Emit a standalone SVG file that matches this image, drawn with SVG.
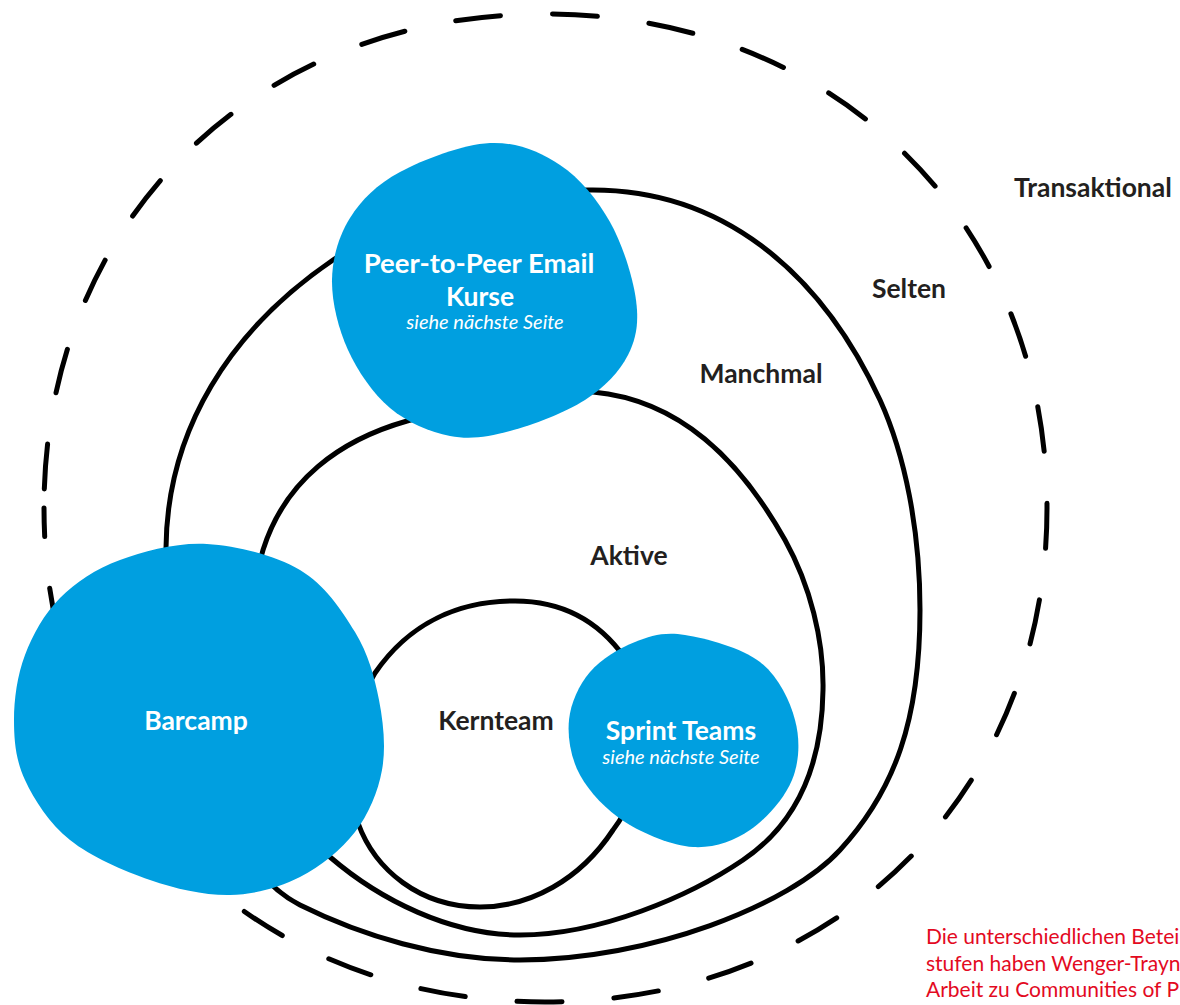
<svg xmlns="http://www.w3.org/2000/svg" width="1180" height="1005" viewBox="0 0 1180 1005">
<style>
.ring{fill:none;stroke:#000;stroke-width:5;stroke-linecap:round}
.dash{stroke-dasharray:45 52;stroke-dashoffset:78}
.blob{fill:#009fe0}
.lbl{font-family:Lato,"Liberation Sans",sans-serif;font-weight:700;font-size:26.5px;fill:#231f20}
.wt{fill:#ffffff}
.it{font-family:Lato,"Liberation Sans",sans-serif;font-style:italic;font-weight:400;font-size:20px;fill:#ffffff}
.note{font-family:Lato,"Liberation Sans",sans-serif;font-size:21px;fill:#e30a1f}
</style>
<rect width="1180" height="1005" fill="#ffffff"/>
<g id="connectors">
<path id="transaktional-ring" class="ring dash" d="M 44,508 C 44,222 254,14 545,14 C 836,14 1047,222 1047,508 C 1047,794 836,1002 545,1002 C 254,1002 44,794 44,508 Z"/>
<path id="selten-ring" class="ring" d="M 588,190 C 720,188 820,270 880,400 C 905,455 920,530 920,610 C 920,720 895,790 840,850 C 790,905 650,960 520,960 C 440,960 360,935 300,905 C 220,865 165,700 166,548 C 167,430 230,330 333,260 C 400,215 500,190 588,190 Z"/>
<path id="manchmal-ring" class="ring" d="M 593,392 C 680,400 740,460 785,540 C 810,585 824,640 823,690 C 822,770 795,825 743,860 C 690,896 600,935 520,935 C 450,935 380,900 330,857 C 270,808 236,640 263,550 C 285,480 340,440 407,421 C 470,403 530,388 593,392 Z"/>
<path id="kernteam-ring" class="ring" d="M 375,673 C 410,622 460,601 515,601 C 560,601 598,620 625,658 C 655,700 648,785 613,830 C 580,880 530,907 480,907 C 420,907 375,870 358,823 C 345,780 350,715 375,673 Z"/>
</g>
<g id="node-peer">
<path class="blob" d="M 490,143 C 516.7,141.8 540,151.8 560,165 C 580,178.2 597.3,199.5 610,222 C 622.7,244.5 633,277.8 636,300 C 639,322.2 636.5,338.3 628,355 C 619.5,371.7 604.7,387.3 585,400 C 565.3,412.7 532.5,425 510,431 C 487.5,437 470,439.8 450,436 C 430,432.2 407,422.3 390,408 C 373,393.7 357.7,371.3 348,350 C 338.3,328.7 331.7,302 332,280 C 332.3,258 338.7,236 350,218 C 361.3,200 376.7,184.5 400,172 C 423.3,159.5 463.3,144.2 490,143 Z"/>
<text class="lbl wt" x="479" y="273" text-anchor="middle" style="font-size:27.5px">Peer-to-Peer Email</text>
<text class="lbl wt" x="480" y="306" text-anchor="middle">Kurse</text>
<text class="it" x="485" y="329" text-anchor="middle">siehe nächste Seite</text>
</g>
<g id="node-barcamp">
<path class="blob" d="M 207,544 C 237,545.7 275.3,555.3 300,570 C 324.7,584.7 341.8,610.3 355,632 C 368.2,653.7 374.5,677 379,700 C 383.5,723 386,748 382,770 C 378,792 368.7,814.2 355,832 C 341.3,849.8 320.8,866.5 300,877 C 279.2,887.5 255,894.5 230,895 C 205,895.5 176.7,889.2 150,880 C 123.3,870.8 90.8,856.7 70,840 C 49.2,823.3 34.3,800 25,780 C 15.7,760 14,740.8 14,720 C 14,699.2 17.3,675.3 25,655 C 32.7,634.7 44.2,613.8 60,598 C 75.8,582.2 95.5,569 120,560 C 144.5,551 177,542.3 207,544 Z"/>
<text class="lbl wt" x="196" y="730" text-anchor="middle">Barcamp</text>
</g>
<g id="node-sprint">
<path class="blob" d="M 685,635 C 705.8,638.3 741.7,647.8 760,662 C 778.3,676.2 789.7,700.3 795,720 C 800.3,739.7 799.5,761.7 792,780 C 784.5,798.3 766.5,818.8 750,830 C 733.5,841.2 713.8,848.3 693,847 C 672.2,845.7 643.8,834 625,822 C 606.2,810 589.3,792 580,775 C 570.7,758 567.3,737.2 569,720 C 570.7,702.8 579,685 590,672 C 601,659 619.2,648.2 635,642 C 650.8,635.8 664.2,631.7 685,635 Z"/>
<text class="lbl wt" x="681" y="740" text-anchor="middle">Sprint Teams</text>
<text class="it" x="681" y="764" text-anchor="middle">siehe nächste Seite</text>
</g>
<g id="labels">
<text class="lbl" x="1014" y="197">Transaktional</text>
<text class="lbl" x="909" y="298" text-anchor="middle">Selten</text>
<text class="lbl" x="761" y="383" text-anchor="middle">Manchmal</text>
<text class="lbl" x="629" y="565" text-anchor="middle">Aktive</text>
<text class="lbl" x="496" y="730" text-anchor="middle">Kernteam</text>
</g>
<g id="note">
<text class="note" x="926" y="944">Die unterschiedlichen Betei</text>
<text class="note" x="926" y="971">stufen haben Wenger-Trayn</text>
<text class="note" x="926" y="997">Arbeit zu Communities of P</text>
</g>
</svg>
